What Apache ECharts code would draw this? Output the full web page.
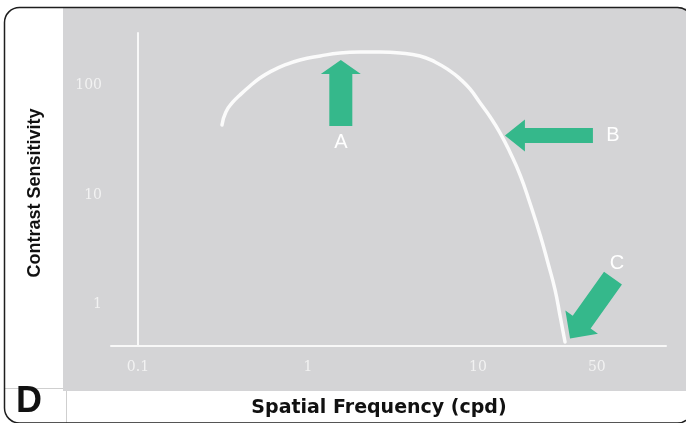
<!DOCTYPE html>
<html><head><meta charset="utf-8">
<script src="https://cdn.jsdelivr.net/npm/echarts@6/dist/echarts.min.js"></script>
<style>html,body{margin:0;padding:0;background:#fff}#c{width:686px;height:423px}</style>
</head><body><div id="c"></div>
<script>
// ---- data ----
const freq = [0.312, 0.329, 0.362, 0.398, 0.456, 0.522, 0.598, 0.732, 0.897, 1.18, 1.54, 2.02, 2.65, 3.48, 4.56, 5.59, 6.84, 7.84, 8.97, 10.3, 11.8, 13.5, 15.4, 17.7, 20.2, 23.2, 25.8, 28.4, 30.4, 32.5];
const sens = [43.6, 57.3, 70.7, 81.9, 98.9, 117, 133, 154, 171, 186, 198, 202, 202, 198, 186, 164, 136, 115, 92.9, 69.2, 51.6, 36.8, 24.7, 15.2, 8.45, 4.31, 2.39, 1.36, 0.785, 0.455];
const xTicks = [0.1, 1, 10, 50];
const yTicks = [1, 10, 100];
const annotLabels = ['A', 'B', 'C'];
const annotFreq = [1.56, 14.4, 34.8];
const annotSens = [171, 35, 0.49];

const chart = echarts.init(document.getElementById('c'), null, {renderer: 'canvas'});
const fmt = v => String(+Number(v).toPrecision(3));
const lblStyle = {color: '#f2f2f2', fontFamily: 'DejaVu Serif', fontSize: 14};

chart.setOption({
  animation: false,
  backgroundColor: '#ffffff',
  grid: {left: 111, right: 20, top: 33, bottom: 77, containLabel: false},
  xAxis: {
    type: 'log', logBase: 10, min: 0.0694, max: 127.6,
    axisLine: {show: true, onZero: false, lineStyle: {color: '#f8f8f8', width: 2}},
    axisTick: {show: false}, minorTick: {show: false},
    splitLine: {show: false},
    axisLabel: Object.assign({customValues: xTicks, formatter: fmt, margin: 14, hideOverlap: false}, lblStyle)
  },
  yAxis: {
    type: 'log', logBase: 10, min: 0.418, max: 301.5, offset: -27,
    axisLine: {show: true, onZero: false, lineStyle: {color: '#f8f8f8', width: 2}},
    axisTick: {show: false}, minorTick: {show: false},
    splitLine: {show: false},
    axisLabel: Object.assign({customValues: yTicks, formatter: fmt, margin: 36, hideOverlap: false}, lblStyle)
  },
  series: [{
    type: 'line',
    data: freq.map((f, i) => [f, sens[i]]),
    smooth: 0.5,
    showSymbol: false,
    lineStyle: {color: '#fbfbfb', width: 3.5, cap: 'round', join: 'round'},
    z: 3
  }]
});

// ---- annotations (arrows placed at data coordinates) ----
const arrowGeom = [
  {back: [0, 1], hl: 14, hw: 40, sw: 23, len: 66, lab: [0, 83]},
  {back: [1, 0], hl: 20, hw: 32, sw: 15, len: 88, lab: [108, 0]},
  {back: [0.58, -0.815], hl: 20, hw: 40, sw: 22, len: 74, lab: [47, -75]}
];
function arrowPts(t, g) {
  const bx = g.back[0], by = g.back[1];
  const n = Math.hypot(bx, by), ux = bx / n, uy = by / n;
  const px = -uy, py = ux;
  const P = (a, b) => [t[0] + ux * a + px * b, t[1] + uy * a + py * b];
  return [P(0, 0), P(g.hl, g.hw / 2), P(g.hl, g.sw / 2), P(g.len, g.sw / 2),
          P(g.len, -g.sw / 2), P(g.hl, -g.sw / 2), P(g.hl, -g.hw / 2)];
}
const graphics = [
  {type: 'rect', z: -100, shape: {x: 63, y: 8, width: 640, height: 383}, style: {fill: '#d4d4d6'}},
  {type: 'line', z: 50, shape: {x1: 5, y1: 388.5, x2: 63, y2: 388.5}, style: {stroke: '#cfcfcf', lineWidth: 1}},
  {type: 'line', z: 50, shape: {x1: 66.5, y1: 391, x2: 66.5, y2: 423}, style: {stroke: '#cfcfcf', lineWidth: 1}},
  {type: 'rect', z: 60, shape: {x: 4.5, y: 7.5, width: 688, height: 415.5, r: 15},
   style: {fill: 'none', stroke: '#1e1e1e', lineWidth: 1.5}},
  {type: 'text', z: 60, x: 35, y: 193, rotation: Math.PI / 2,
   style: {text: 'Contrast Sensitivity', font: 'bold 18px "Liberation Sans", Arial, sans-serif',
           fill: '#111', textAlign: 'center', textVerticalAlign: 'middle'}},
  {type: 'text', z: 60, x: 379, y: 408,
   style: {text: 'Spatial Frequency (cpd)', font: 'bold 19px "DejaVu Sans", sans-serif',
           fill: '#111', textAlign: 'center', textVerticalAlign: 'middle'}},
  {type: 'text', z: 60, x: 29, y: 402,
   style: {text: 'D', font: 'bold 36px "Liberation Sans", Arial, sans-serif',
           fill: '#111', textAlign: 'center', textVerticalAlign: 'middle'}}
];
annotLabels.forEach((lab, i) => {
  const tip = chart.convertToPixel({gridIndex: 0}, [annotFreq[i], annotSens[i]]);
  const g = arrowGeom[i];
  graphics.push({type: 'polygon', z: 20, shape: {points: arrowPts(tip, g)}, style: {fill: '#35b88b'}});
  graphics.push({type: 'text', z: 20, x: tip[0] + g.lab[0], y: tip[1] + g.lab[1],
    style: {text: lab, font: '20px "Liberation Sans", Arial, sans-serif', fill: '#ffffff',
            textAlign: 'center', textVerticalAlign: 'middle'}});
});
chart.setOption({graphic: graphics});
</script>
</body></html>
